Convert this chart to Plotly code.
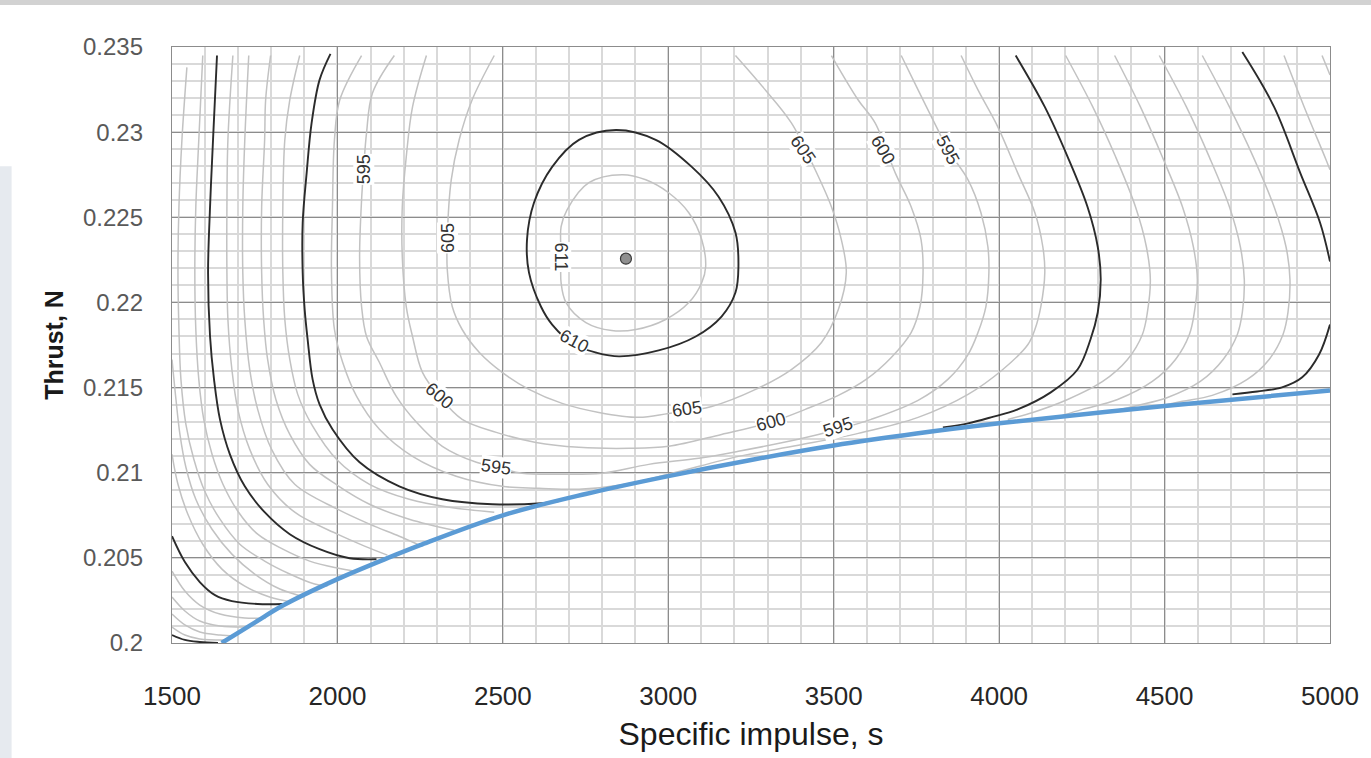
import plotly.graph_objects as go

# ---------------- axes ----------------
isp_ticks = [1500, 2000, 2500, 3000, 3500, 4000, 4500, 5000]
thr_ticks = [0.2, 0.205, 0.21, 0.215, 0.22, 0.225, 0.23, 0.235]
thr_ticktext = ["0.2", "0.205", "0.21", "0.215", "0.22", "0.225", "0.23", "0.235"]

# ---------------- boundary (blue) ----------------
bound_isp = [1650, 1750, 1835, 2000, 2166, 2250, 2500, 2750, 3000, 3250, 3500, 3750, 4000, 4500, 5000]
bound_thr = [0.2000, 0.2012, 0.2022, 0.20375, 0.2051, 0.20575, 0.2075, 0.20875, 0.2098, 0.21075,
             0.2116, 0.2123, 0.2129, 0.21392, 0.21483]

# ---------------- optimum point ----------------
opt_isp = [2872]
opt_thr = [0.22257]

# ---------------- contour lines ----------------
c611_isp = [2860, 2932, 3001, 3062, 3101, 3113, 3101, 3062, 2992, 2902, 2829, 2751, 2691, 2676, 2676, 2676, 2694, 2760, 2860]
c611_thr = [0.22750, 0.22720, 0.22644, 0.22527, 0.22369, 0.22210, 0.22116, 0.21999, 0.21900, 0.21841,
            0.21835, 0.21882, 0.21999, 0.22116, 0.22281, 0.22445, 0.22544, 0.22703, 0.22750]

c610_isp = [2842, 2962, 3071, 3152, 3203, 3212, 3203, 3161, 3083, 2971, 2851, 2781, 2715, 2649, 2615, 2579, 2573, 2594, 2649, 2730, 2842]
c610_thr = [0.23013, 0.22955, 0.22796, 0.22621, 0.22410, 0.22210, 0.22058, 0.21917, 0.21800, 0.21718, 0.21683,
            0.21706, 0.21753, 0.21870, 0.21976, 0.22175, 0.22369, 0.22585, 0.22796, 0.22955, 0.23013]

c605_isp = [2474, 2407, 2368, 2344, 2332, 2332, 2347, 2377, 2429, 2498, 2579, 2679, 2790, 2911, 3001, 3131, 3264,
            3372, 3463, 3514, 3538, 3523, 3493, 3444, 3372, 3288, 3203]
c605_thr = [0.2345, 0.23189, 0.22955, 0.22720, 0.22380, 0.22193, 0.21976, 0.21841, 0.21706, 0.21589, 0.21489, 0.21407,
            0.21354, 0.21325, 0.21348, 0.21389, 0.21489, 0.21606, 0.21765, 0.21958, 0.22175, 0.22369, 0.22562, 0.22779,
            0.23054, 0.23260, 0.2345]

c600_isp = [2269, 2227, 2208, 2196, 2196, 2208, 2227, 2257, 2308, 2377, 2480, 2600, 2730, 2881, 3001, 3161, 3309, 3414,
            3514, 3598, 3674, 3734, 3761, 3770, 3764, 3734, 3686, 3625, 3574, 3493]
c600_thr = [0.2345, 0.23148, 0.22855, 0.22562, 0.22269, 0.21976, 0.21800, 0.21589, 0.21448, 0.21313, 0.21237, 0.21178,
            0.21149, 0.21143, 0.21155, 0.21225, 0.21296, 0.21372, 0.21454, 0.21548, 0.21677, 0.21823, 0.21976, 0.22175,
            0.22369, 0.22562, 0.22761, 0.23054, 0.23189, 0.2345]

c595_isp = [2172, 2106, 2088, 2079, 2073, 2067, 2073, 2088, 2127, 2178, 2239, 2317, 2420, 2483, 2558, 2679, 2799, 2941,
            3092, 3212, 3393, 3514, 3613, 3755, 3845, 3906, 3936, 3960, 3969, 3966, 3945, 3906, 3845, 3815, 3755, 3704]
c595_thr = [0.2345, 0.23230, 0.22996, 0.22779, 0.22603, 0.22269, 0.21976, 0.21800, 0.21647, 0.21448, 0.21296, 0.21155,
            0.21061, 0.21032, 0.20997, 0.20991, 0.20997, 0.21049, 0.21085, 0.21126, 0.21196, 0.21255, 0.21313, 0.21425,
            0.21548, 0.21694, 0.21823, 0.21976, 0.22175, 0.22327, 0.22527, 0.22720, 0.22896, 0.23013, 0.23248, 0.2345]

c592_isp = [2073, 2007, 1991, 1985, 1982, 1991, 2016, 2058, 2127, 2227, 2359, 2498, 2609, 2730, 2851, 3001, 3212, 3393,
            3574, 3755, 3906, 4011, 4087, 4108, 4126, 4138, 4132, 4108, 4056, 3996, 3936, 3885]
c592_thr = [0.2345, 0.23189, 0.22955, 0.22562, 0.22175, 0.21841, 0.21647, 0.21448, 0.21255, 0.21096, 0.20979, 0.20920,
            0.20909, 0.20903, 0.20926, 0.20991, 0.21096, 0.21161, 0.21231, 0.21325, 0.21460, 0.21606, 0.21753, 0.21841,
            0.21976, 0.22175, 0.22327, 0.22527, 0.22761, 0.23031, 0.23248, 0.2345]

c590a_isp = [1979, 1946, 1922, 1907, 1895, 1895, 1901, 1910, 1925, 1946, 1985, 2067, 2187, 2317, 2468, 2618, 2670]
c590a_thr = [0.2346, 0.23307, 0.23054, 0.22761, 0.22468, 0.22175, 0.21958, 0.21782, 0.21548, 0.21401, 0.21255, 0.21061,
             0.20920, 0.20844, 0.20815, 0.20821, 0.20833]
c590b_isp = [4050, 4138, 4207, 4267, 4298, 4307, 4298, 4276, 4237, 4156, 4056, 3975, 3906, 3830]
c590b_thr = [0.2345, 0.23148, 0.22855, 0.22562, 0.22327, 0.22134, 0.21941, 0.21782, 0.21606, 0.21472, 0.21372, 0.21325,
             0.21290, 0.21266]

c588a_isp = [1886, 1856, 1841, 1835, 1835, 1841, 1856, 1880, 1922, 2000, 2097, 2217, 2338, 2474]
c588a_thr = [0.2345, 0.23189, 0.22955, 0.22562, 0.22175, 0.21900, 0.21665, 0.21460, 0.21284, 0.21073, 0.20932, 0.20844,
             0.20797, 0.20768]
c586a_isp = [1798, 1783, 1780, 1771, 1771, 1777, 1789, 1814, 1856, 1916, 2000, 2097, 2217, 2353]
c586a_thr = [0.2345, 0.23189, 0.22955, 0.22562, 0.22175, 0.21900, 0.21665, 0.21430, 0.21225, 0.21049, 0.20926, 0.20815,
             0.20727, 0.20662]
c584a_isp = [1732, 1720, 1714, 1714, 1720, 1735, 1759, 1801, 1871, 2000, 2097, 2187, 2242]
c584a_thr = [0.2345, 0.22955, 0.22562, 0.22175, 0.21900, 0.21606, 0.21372, 0.21137, 0.20932, 0.20786, 0.20698, 0.20627,
             0.20580]
c582a_isp = [1684, 1669, 1666, 1666, 1669, 1681, 1699, 1735, 1789, 1871, 2000, 2082, 2151]
c582a_thr = [0.2345, 0.22955, 0.22562, 0.22175, 0.21900, 0.21606, 0.21372, 0.21137, 0.20932, 0.20768, 0.20639, 0.20569,
             0.20516]
c580a_isp = [1636, 1624, 1615, 1609, 1615, 1627, 1645, 1675, 1720, 1780, 1856, 1946, 2037, 2118]
c580a_thr = [0.2345, 0.22955, 0.22562, 0.22175, 0.21800, 0.21548, 0.21313, 0.21108, 0.20920, 0.20768, 0.20639, 0.20551,
             0.20498, 0.20492]
c578a_isp = [1593, 1581, 1572, 1569, 1572, 1581, 1596, 1621, 1654, 1699, 1759, 1835, 1916, 2000, 2052]
c578a_thr = [0.2345, 0.22955, 0.22562, 0.22175, 0.21841, 0.21548, 0.21313, 0.21108, 0.20932, 0.20774, 0.20639, 0.20551,
             0.20481, 0.20440, 0.20422]
c576a_isp = [1545, 1530, 1521, 1518, 1521, 1527, 1542, 1566, 1599, 1645, 1705, 1780, 1856, 1931, 1970]
c576a_thr = [0.2338, 0.22955, 0.22562, 0.22175, 0.21841, 0.21548, 0.21284, 0.21079, 0.20891, 0.20727, 0.20580, 0.20481,
             0.20405, 0.20346, 0.20334]
c574a_isp = [1500, 1512, 1524, 1542, 1572, 1621, 1681, 1750, 1826, 1901]
c574a_thr = [0.21665, 0.21430, 0.21225, 0.21032, 0.20844, 0.20668, 0.20522, 0.20405, 0.20317, 0.20270]
c572a_isp = [1500, 1518, 1548, 1593, 1651, 1720, 1795, 1862]
c572a_thr = [0.21108, 0.20932, 0.20756, 0.20580, 0.20434, 0.20334, 0.20270, 0.20240]
c570a_isp = [1500, 1539, 1584, 1630, 1681, 1759, 1835]
c570a_thr = [0.20627, 0.20475, 0.20358, 0.20281, 0.20246, 0.20229, 0.20229]
c568a_isp = [1500, 1539, 1584, 1645, 1720, 1783]
c568a_thr = [0.20422, 0.20305, 0.20223, 0.20170, 0.20147, 0.20147]
c566a_isp = [1500, 1539, 1584, 1645, 1735]
c566a_thr = [0.20270, 0.20188, 0.20129, 0.20100, 0.20094]
c564a_isp = [1500, 1539, 1584, 1645, 1690]
c564a_thr = [0.20170, 0.20106, 0.20065, 0.20047, 0.20041]
c562a_isp = [1500, 1539, 1584, 1660]
c562a_thr = [0.20094, 0.20047, 0.20024, 0.20018]
c560a_isp = [1500, 1539, 1584, 1639]
c560a_thr = [0.20047, 0.20018, 0.20006, 0.2000]

c588b_isp = [4201, 4283, 4352, 4412, 4445, 4457, 4448, 4433, 4388, 4313, 4207, 4102, 4026]
c588b_thr = [0.2345, 0.23148, 0.22855, 0.22562, 0.22327, 0.22134, 0.21941, 0.21812, 0.21665, 0.21536, 0.21430, 0.21354,
             0.21313]
c586b_isp = [4349, 4427, 4493, 4554, 4587, 4599, 4590, 4575, 4533, 4463, 4358, 4252, 4192]
c586b_thr = [0.2345, 0.23148, 0.22855, 0.22562, 0.22327, 0.22134, 0.21941, 0.21812, 0.21665, 0.21536, 0.21430, 0.21372,
             0.21337]
c584b_isp = [4484, 4566, 4635, 4696, 4729, 4741, 4735, 4720, 4677, 4608, 4509, 4418, 4352]
c584b_thr = [0.2345, 0.23148, 0.22855, 0.22562, 0.22327, 0.22134, 0.21941, 0.21812, 0.21665, 0.21536, 0.21442, 0.21395,
             0.21366]
c582b_isp = [4614, 4696, 4768, 4831, 4867, 4879, 4873, 4858, 4816, 4750, 4644, 4554, 4493]
c582b_thr = [0.2345, 0.23148, 0.22855, 0.22562, 0.22327, 0.22134, 0.21941, 0.21812, 0.21665, 0.21548, 0.21454, 0.21419,
             0.21395]
c580b_isp = [4735, 4831, 4910, 4970, 5000, None, 5000, 4967, 4916, 4855, 4780, 4705]
c580b_thr = [0.2347, 0.23148, 0.22761, 0.22468, 0.22240, None, 0.21870, 0.21694, 0.21560, 0.21501, 0.21477, 0.21460]
c578b_isp = [4861, 4922, 4988, 5000]
c578b_thr = [0.2345, 0.23148, 0.22838, 0.22779]
c576b_isp = [4976, 5000]
c576b_thr = [0.2345, 0.23336]

# contour labels
lab_text = ["595", "605", "611", "610", "600", "595", "605", "600", "595", "605", "600", "595"]
lab_isp = [2079, 2332, 2676, 2715, 2308, 2480, 3056, 3309, 3514, 3408, 3649, 3845]
lab_thr = [0.22779, 0.22380, 0.22269, 0.21771, 0.21448, 0.21032, 0.21372, 0.21296, 0.21266, 0.22896, 0.22896, 0.22896]
lab_angle = [-90, -90, 90, 28, 40, 8, -8, -15, -18, 55, 60, 62]

gray_lines = [
    (c611_isp, c611_thr), (c605_isp, c605_thr), (c600_isp, c600_thr), (c595_isp, c595_thr),
    (c592_isp, c592_thr), (c588a_isp, c588a_thr), (c586a_isp, c586a_thr), (c584a_isp, c584a_thr),
    (c582a_isp, c582a_thr), (c578a_isp, c578a_thr), (c576a_isp, c576a_thr), (c574a_isp, c574a_thr),
    (c572a_isp, c572a_thr), (c568a_isp, c568a_thr), (c566a_isp, c566a_thr), (c564a_isp, c564a_thr),
    (c562a_isp, c562a_thr), (c588b_isp, c588b_thr), (c586b_isp, c586b_thr), (c584b_isp, c584b_thr),
    (c582b_isp, c582b_thr), (c578b_isp, c578b_thr), (c576b_isp, c576b_thr),
]
black_lines = [
    (c610_isp, c610_thr), (c590a_isp, c590a_thr), (c590b_isp, c590b_thr), (c580a_isp, c580a_thr),
    (c580b_isp, c580b_thr), (c570a_isp, c570a_thr), (c560a_isp, c560a_thr),
]

GRAY = "#c2c2c2"
BLACK = "#2b2b2b"

fig = go.Figure()
for xs, ys in gray_lines:
    fig.add_trace(go.Scatter(x=xs, y=ys, mode="lines", hoverinfo="skip",
                             line=dict(color=GRAY, width=1.5, shape="spline", smoothing=1.0)))
for xs, ys in black_lines:
    fig.add_trace(go.Scatter(x=xs, y=ys, mode="lines", hoverinfo="skip",
                             line=dict(color=BLACK, width=1.9, shape="spline", smoothing=1.0)))
fig.add_trace(go.Scatter(x=bound_isp, y=bound_thr, mode="lines", hoverinfo="skip",
                         line=dict(color="#5b9bd5", width=4.5, shape="spline", smoothing=1.0)))
fig.add_trace(go.Scatter(x=opt_isp, y=opt_thr, mode="markers",
                         marker=dict(color="#8f8f8f", size=11, line=dict(color="#3a3a3a", width=1.2))))

for t, x, y, a in zip(lab_text, lab_isp, lab_thr, lab_angle):
    fig.add_annotation(x=x, y=y, text=t, showarrow=False, textangle=a,
                       font=dict(family="Liberation Sans, Arial, sans-serif", size=18, color="#333333"),
                       bgcolor="white", borderpad=0)

# slide background edges around the chart picture
fig.add_shape(type="rect", xref="paper", yref="paper", x0=-0.2, x1=1.1, y0=1.0704, y1=1.1,
              fillcolor="#d2d2d2", line_width=0, layer="below")
fig.add_shape(type="rect", xref="paper", yref="paper", x0=-0.2, x1=-0.1385, y0=-0.3, y1=0.8,
              fillcolor="#e6eaef", line_width=0, layer="below")

fig.update_layout(
    width=1371, height=758,
    margin=dict(l=172, r=38, t=47, b=114),
    paper_bgcolor="white", plot_bgcolor="white",
    showlegend=False,
    font=dict(family="Liberation Sans, Arial, sans-serif"),
)
fig.update_xaxes(
    range=[1500, 5000], tickvals=isp_ticks,
    showgrid=True, gridcolor="#8c8c8c", gridwidth=1.4,
    minor=dict(dtick=100, tick0=1500, showgrid=True, gridcolor="#d9d9d9", gridwidth=1.5),
    zeroline=False, showline=True, linecolor="#8c8c8c", linewidth=1.4, mirror=True,
    ticks="outside", ticklen=30, tickcolor="rgba(0,0,0,0)",
    tickfont=dict(size=26, color="#262626"),
    title=dict(text="Specific impulse, s", font=dict(size=32, color="#1a1a1a"), standoff=12),
)
fig.update_yaxes(
    range=[0.2, 0.235], tickvals=thr_ticks, ticktext=thr_ticktext,
    showgrid=True, gridcolor="#8c8c8c", gridwidth=1.4,
    minor=dict(dtick=0.001, tick0=0.2, showgrid=True, gridcolor="#d9d9d9", gridwidth=1.5),
    zeroline=False, showline=True, linecolor="#8c8c8c", linewidth=1.4, mirror=True,
    ticks="outside", ticklen=23, tickcolor="rgba(0,0,0,0)",
    tickfont=dict(size=24, color="#595959"),
    title=dict(text="<b>Thrust, N</b>", font=dict(size=25, color="#1a1a1a"), standoff=12),
)

fig.write_html("out.html")
